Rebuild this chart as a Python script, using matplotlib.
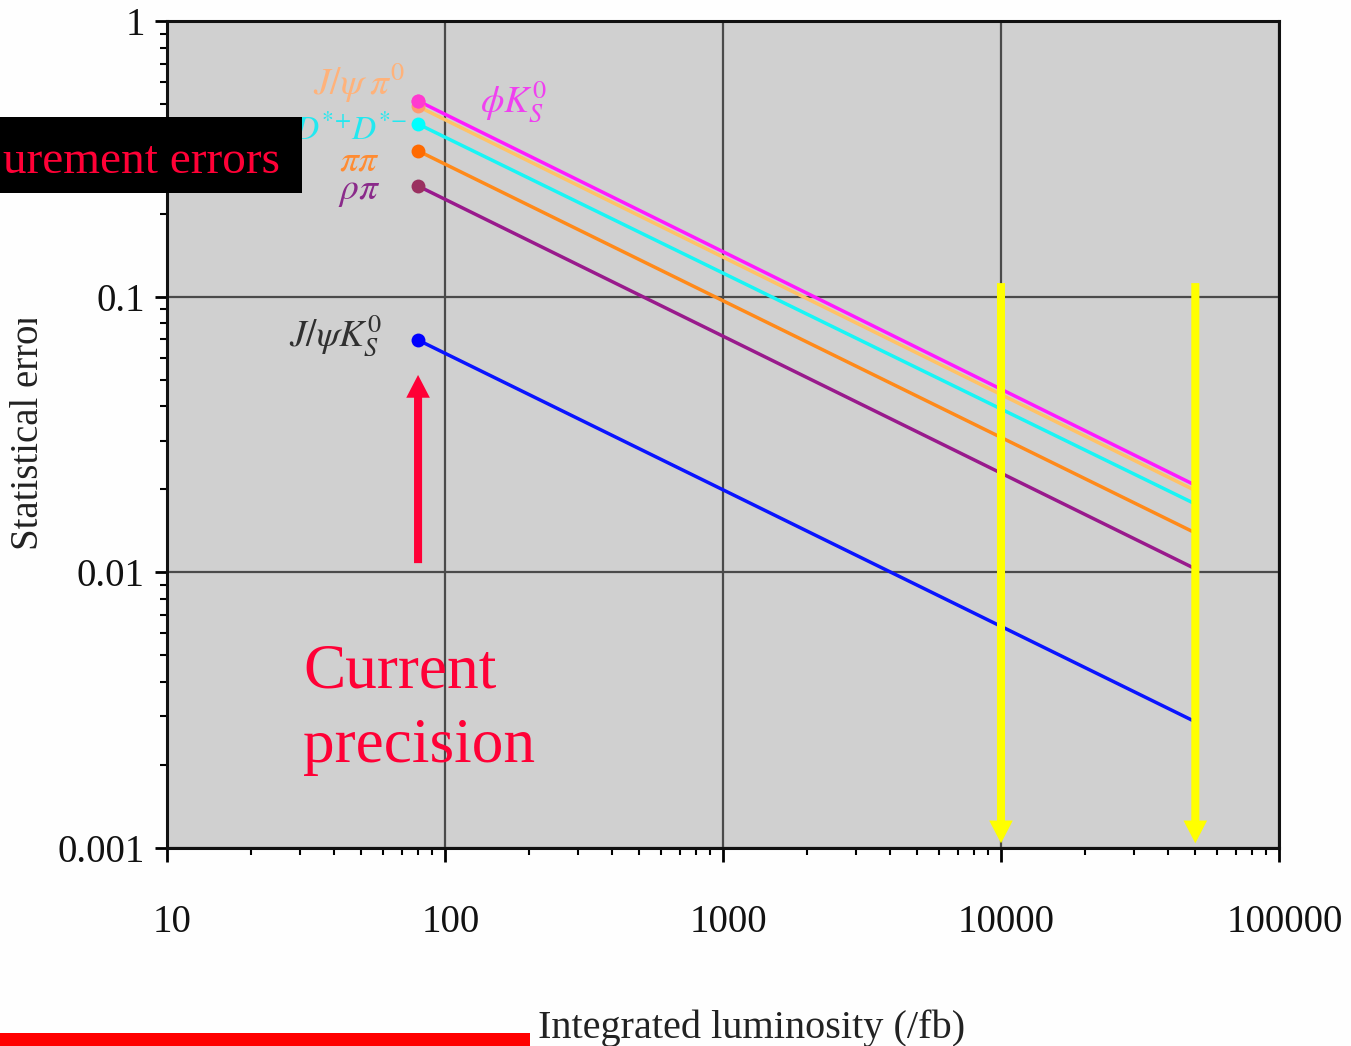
import matplotlib
matplotlib.use("Agg")
import matplotlib.pyplot as plt
import matplotlib.transforms as mtransforms
from matplotlib.patches import Rectangle
from matplotlib.transforms import Bbox
import numpy as np

plt.rcParams['font.family'] = ['Liberation Serif', 'DejaVu Serif']
plt.rcParams['mathtext.fontset'] = 'stix'

# ---------------- data ----------------
lum_range = [80, 50000]                       # integrated luminosity (/fb) at line start and end
modes = ['J/psi pi0', 'phi Ks', 'D*+ D*-', 'pi pi', 'rho pi', 'J/psi Ks']
err_start = [0.49, 0.513, 0.423, 0.338, 0.252, 0.0696]
err_end = [0.0198, 0.0207, 0.0177, 0.0139, 0.0103, 0.00287]
line_colors = ['#ffc266', '#ff1aff', '#19f5f5', '#ff8a1a', '#991a8c', '#0a14ff']
dot_colors = ['#ff9a70', '#ff3ad0', '#00ffff', '#ff6a00', '#9a3060', '#0000ff']

mode_labels = [r'$J/\psi\;\pi^0$', r'$\phi K_S^0$', r'$D^{*\!+}\!D^{*\!-}$', r'$\pi\pi$', r'$\rho\pi$',
               r'$J/\psi K_S^0$']
label_colors = ['#ffb27a', '#f040f0', '#22e8f0', '#ff8c33', '#8a2a8a', '#303030']
label_x = [72, 134, 73, 58.5, 58.5, 59.3]
label_y = [0.539, 0.464, 0.372, 0.288, 0.226, 0.0657]
label_ha = ['right', 'left', 'right', 'right', 'right', 'right']
label_size = [27, 27, 24, 27, 27, 27]

xticks = [10, 100, 1000, 10000, 100000]
xtick_labels = ['10', '100', '1000', '10000', '100000']
yticks = [0.001, 0.01, 0.1, 1]
ytick_labels = ['0.001', '0.01', '0.1', '1']

current_lum = 80
current_arrow = [0.0108, 0.052]                # tail, tip
future_lums = [10000, 50000]
future_arrow = [0.112, 0.00104]               # tail, tip

# ---------------- figure ----------------
W, H = 1351, 1046
fig = plt.figure(figsize=(W / 100, H / 100), dpi=100)
fig.patch.set_facecolor('#fefefe')

ax = fig.add_axes([167 / W, 1 - 848 / H, (1279 - 167) / W, (848 - 21) / H])
ax.set_facecolor('#d0d0d0')
ax.set_xscale('log')
ax.set_yscale('log')
ax.set_xlim(10, 100000)
ax.set_ylim(0.001, 1)

for s in ax.spines.values():
    s.set_linewidth(2.2)
    s.set_color('#111111')

ax.grid(True, which='major', color='#4a4a4a', linewidth=1.6)
ax.set_axisbelow(True)

ax.set_xticks(xticks)
ax.set_xticklabels(xtick_labels)
ax.set_yticks(yticks)
ax.set_yticklabels(ytick_labels)
ax.xaxis.set_minor_locator(matplotlib.ticker.LogLocator(base=10, subs=np.arange(2, 10)))
ax.yaxis.set_minor_locator(matplotlib.ticker.LogLocator(base=10, subs=np.arange(2, 10)))
ax.xaxis.set_minor_formatter(matplotlib.ticker.NullFormatter())
ax.yaxis.set_minor_formatter(matplotlib.ticker.NullFormatter())
ax.tick_params(axis='x', which='major', direction='out', length=10, width=2, pad=30, labelsize=28,
               top=False, labelcolor='#111111')
ax.tick_params(axis='x', which='minor', direction='out', length=5, width=1.5, top=False)
ax.tick_params(axis='y', which='major', direction='out', length=9, width=2, pad=7, labelsize=28,
               right=False, labelcolor='#111111')
ax.tick_params(axis='y', which='minor', direction='out', length=5, width=1.5, right=False)

shift = mtransforms.ScaledTranslation(4 / 72, 0, fig.dpi_scale_trans)
for lab in ax.get_xticklabels():
    lab.set_transform(lab.get_transform() + shift)

# lines and dots
for i in range(len(modes)):
    ax.plot(lum_range, [err_start[i], err_end[i]], color=line_colors[i], lw=2.5,
            solid_capstyle='butt', zorder=3 + i * 0.01)
for i in range(len(modes)):
    ax.plot([lum_range[0]], [err_start[i]], 'o', color=dot_colors[i], ms=10, mew=0,
            zorder=4 + i * 0.01)
# make sure phi Ks dot on top
ax.plot([lum_range[0]], [err_start[1]], 'o', color=dot_colors[1], ms=10, mew=0, zorder=5)

for i in range(len(modes)):
    ax.text(label_x[i], label_y[i], mode_labels[i], color=label_colors[i], fontsize=label_size[i],
            ha=label_ha[i], va='baseline', zorder=6)

# arrows
arrow_style = 'simple,head_width=0.85,head_length=0.82,tail_width=0.29'
ax.annotate('', xy=(current_lum, current_arrow[1]), xytext=(current_lum, current_arrow[0]),
            arrowprops=dict(arrowstyle=arrow_style, color='#ff0036', mutation_scale=20,
                            shrinkA=0, shrinkB=0, lw=0), zorder=7)
for L in future_lums:
    ax.annotate('', xy=(L, future_arrow[1]), xytext=(L, future_arrow[0]),
                arrowprops=dict(arrowstyle=arrow_style, color='#ffff00', mutation_scale=20,
                                shrinkA=0, shrinkB=0, lw=0), zorder=8)

# "Current precision"
fig.text(303 / W, 1 - 688 / H, 'Current', color='#ff0036', fontsize=45.5, ha='left', va='baseline')
fig.text(303 / W, 1 - 762 / H, 'precision', color='#ff0036', fontsize=45.5, ha='left', va='baseline')

# x label
ax.set_xlabel('Integrated luminosity (/fb)', fontsize=29, color='#222222')
ax.xaxis.label.set_verticalalignment('baseline')
ax.xaxis.set_label_coords((752 - 167) / (1279 - 167), (848 - 1038) / (848 - 21))

# y label (clipped at top as in reference)
yl = fig.text(29 / W, 1 - 431 / H, 'Statistical error', rotation=90, fontsize=28,
              color='#222222', ha='center', va='center')
yl.set_clip_box(Bbox([[0, 0], [120, H - 319]]))
yl.set_clip_on(True)

# black box with partially visible title
fig.patches.append(Rectangle((0, 1 - 193 / H), 302 / W, 76 / H, transform=fig.transFigure,
                             facecolor='black', edgecolor='none', zorder=10))
fig.text(3 / W, 1 - 173 / H, 'urement errors', color='#ff0036', fontsize=34, ha='left',
         va='baseline', zorder=11)

# red bar at bottom
fig.patches.append(Rectangle((0, 0), 530 / W, 13 / H, transform=fig.transFigure,
                             facecolor='#ff0000', edgecolor='none', zorder=10))

fig.savefig('out.png', dpi=100)
